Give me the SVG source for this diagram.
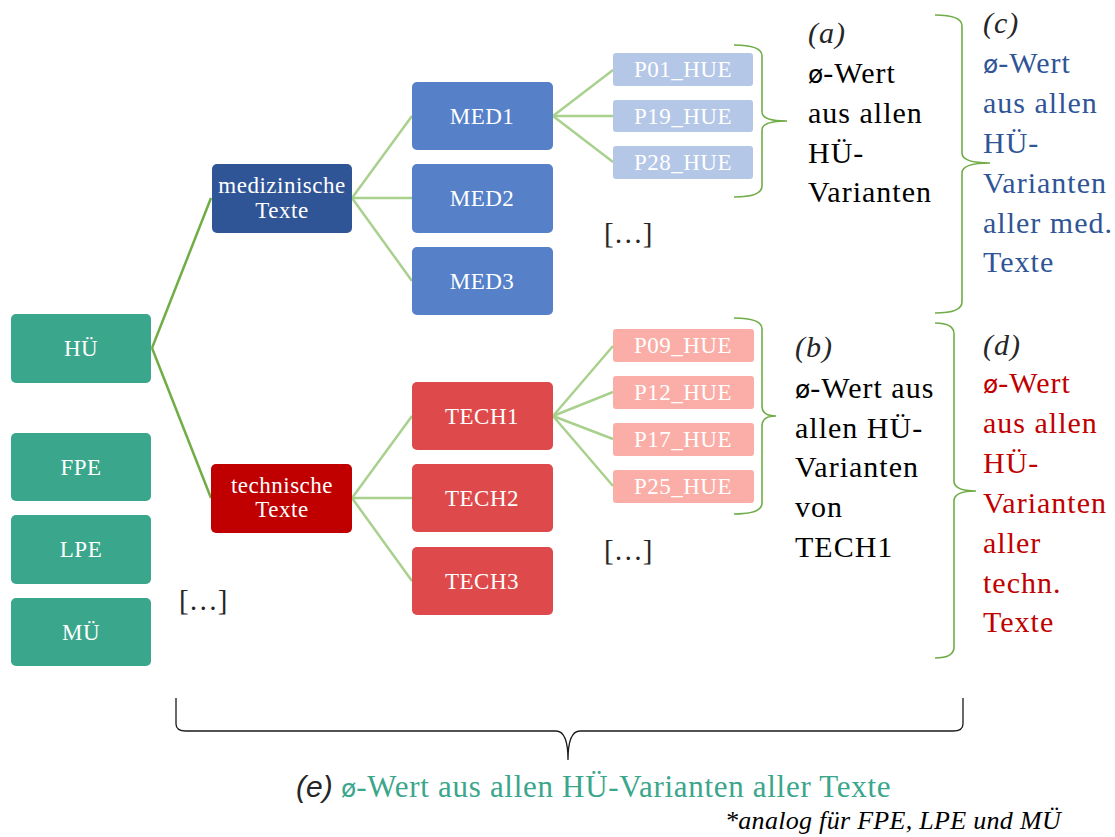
<svg xmlns="http://www.w3.org/2000/svg" width="1115" height="837" viewBox="0 0 1115 837">
  <style>
    .node text { font-family: "Liberation Serif", "Times New Roman", serif; font-size: 23px; fill: #ffffff; text-anchor: middle; letter-spacing: 0.5px; }
    .teal { fill: #3AA68B; }
    .medgrp { fill: #2F5597; }
    .med { fill: #5680C8; }
    .pmed { fill: #B4C7E7; }
    .techgrp { fill: #C00000; }
    .tech { fill: #DE4A4B; }
    .ptech { fill: #FAAEA7; }
    .edge-main { stroke: #70AD47; stroke-width: 2.5; fill: none; }
    .edge { stroke: #A9D18E; stroke-width: 2.5; fill: none; }
    .brace { stroke: #70AD47; stroke-width: 1.6; fill: none; }
    .brace-all { stroke: #1a1a1a; stroke-width: 1.3; fill: none; }
    .note { font-family: "Liberation Serif", "Times New Roman", serif; font-size: 30px; letter-spacing: 1px; }
    .tag { font-style: italic; fill: #262626; }
    .oe { font-family: "DejaVu Sans", sans-serif; font-size: 25px; letter-spacing: 0; }
    .dots { font-family: "Liberation Serif", "Times New Roman", serif; font-size: 29px; fill: #262626; }
  </style>

  <!-- connectors -->
  <g id="connectors">
    <line class="edge-main" x1="152" y1="348" x2="211" y2="198"/>
    <line class="edge-main" x1="152" y1="348" x2="211" y2="498"/>

    <line class="edge" x1="352" y1="198" x2="412" y2="116"/>
    <line class="edge" x1="352" y1="198" x2="412" y2="198"/>
    <line class="edge" x1="352" y1="198" x2="412" y2="281"/>

    <line class="edge" x1="352" y1="498" x2="412" y2="416"/>
    <line class="edge" x1="352" y1="498" x2="412" y2="498"/>
    <line class="edge" x1="352" y1="498" x2="412" y2="581"/>

    <line class="edge" x1="553" y1="116" x2="613" y2="70"/>
    <line class="edge" x1="553" y1="116" x2="613" y2="116"/>
    <line class="edge" x1="553" y1="116" x2="613" y2="162"/>

    <line class="edge" x1="553" y1="416" x2="613" y2="346"/>
    <line class="edge" x1="553" y1="416" x2="613" y2="392"/>
    <line class="edge" x1="553" y1="416" x2="613" y2="439"/>
    <line class="edge" x1="553" y1="416" x2="613" y2="486"/>
  </g>

  <!-- root categories -->
  <g id="hue" class="node"><rect class="teal" x="11" y="314" width="140" height="69" rx="5"/><text x="81" y="356">HÜ</text></g>
  <g id="fpe" class="node"><rect class="teal" x="11" y="433" width="140" height="68" rx="5"/><text x="81" y="475">FPE</text></g>
  <g id="lpe" class="node"><rect class="teal" x="11" y="515" width="140" height="69" rx="5"/><text x="81" y="557">LPE</text></g>
  <g id="mue" class="node"><rect class="teal" x="11" y="598" width="140" height="68" rx="5"/><text x="81" y="640">MÜ</text></g>

  <!-- text groups -->
  <g id="med-texte" class="node"><rect class="medgrp" x="212" y="164" width="140" height="69" rx="5"/><text x="282" y="193">medizinische</text><text x="282" y="218">Texte</text></g>
  <g id="tech-texte" class="node"><rect class="techgrp" x="211" y="464" width="141" height="69" rx="5"/><text x="282" y="493">technische</text><text x="282" y="517">Texte</text></g>

  <!-- single texts -->
  <g id="med1" class="node"><rect class="med" x="412" y="82" width="141" height="68" rx="5"/><text x="482" y="124">MED1</text></g>
  <g id="med2" class="node"><rect class="med" x="412" y="164" width="141" height="69" rx="5"/><text x="482" y="206">MED2</text></g>
  <g id="med3" class="node"><rect class="med" x="412" y="247" width="141" height="68" rx="5"/><text x="482" y="289">MED3</text></g>
  <g id="tech1" class="node"><rect class="tech" x="412" y="382" width="141" height="68" rx="5"/><text x="482" y="424">TECH1</text></g>
  <g id="tech2" class="node"><rect class="tech" x="412" y="464" width="141" height="68" rx="5"/><text x="482" y="506">TECH2</text></g>
  <g id="tech3" class="node"><rect class="tech" x="412" y="547" width="141" height="68" rx="5"/><text x="482" y="589">TECH3</text></g>

  <!-- translation variants -->
  <g id="p01" class="node"><rect class="pmed" x="613" y="53" width="140" height="33" rx="3"/><text x="683" y="77">P01_HUE</text></g>
  <g id="p19" class="node"><rect class="pmed" x="613" y="100" width="140" height="32" rx="3"/><text x="683" y="124">P19_HUE</text></g>
  <g id="p28" class="node"><rect class="pmed" x="613" y="146" width="140" height="33" rx="3"/><text x="683" y="170">P28_HUE</text></g>
  <g id="p09" class="node"><rect class="ptech" x="613" y="329" width="141" height="33" rx="3"/><text x="683" y="353">P09_HUE</text></g>
  <g id="p12" class="node"><rect class="ptech" x="613" y="376" width="141" height="33" rx="3"/><text x="683" y="400">P12_HUE</text></g>
  <g id="p17" class="node"><rect class="ptech" x="613" y="423" width="141" height="33" rx="3"/><text x="683" y="447">P17_HUE</text></g>
  <g id="p25" class="node"><rect class="ptech" x="613" y="470" width="141" height="33" rx="3"/><text x="683" y="494">P25_HUE</text></g>

  <!-- ellipses -->
  <text class="dots" x="179" y="610">[…]</text>
  <text class="dots" x="604" y="243">[…]</text>
  <text class="dots" x="604" y="560">[…]</text>

  <!-- grouping braces -->
  <g id="braces">
    <path class="brace" d="M734,45 Q762,45 762,56 L762,112 Q762,121 787,121 Q762,121 762,130 L762,186 Q762,197 734,197"/>
    <path class="brace" d="M734,318 Q762,318 762,329 L762,406 Q762,416 776,416 Q762,416 762,426 L762,503 Q762,514 734,514"/>
    <path class="brace" d="M935,15 Q962,15 962,26 L962,153 Q962,163 990,163 Q962,163 962,173 L962,302 Q962,313 935,313"/>
    <path class="brace" d="M935,323 Q954,323 954,334 L954,481 Q954,491 976,491 Q954,491 954,501 L954,647 Q954,658 935,658"/>
    <path class="brace-all" d="M176,698 L176,724 Q176,731 186,731 L556,731 Q568,731 568,760 Q568,731 580,731 L953,731 Q963,731 963,724 L963,698"/>
  </g>

  <!-- (a) -->
  <g id="note-a" class="note" fill="#000000">
    <text class="tag" x="808" y="43">(a)</text>
    <text x="808" y="83"><tspan class="oe">ø</tspan>-Wert</text>
    <text x="808" y="123">aus allen</text>
    <text x="808" y="163">HÜ-</text>
    <text x="808" y="202">Varianten</text>
  </g>

  <!-- (b) -->
  <g id="note-b" class="note" fill="#000000">
    <text class="tag" x="795" y="357">(b)</text>
    <text x="795" y="398"><tspan class="oe">ø</tspan>-Wert aus</text>
    <text x="795" y="438">allen HÜ-</text>
    <text x="795" y="477">Varianten</text>
    <text x="795" y="517">von</text>
    <text x="795" y="557">TECH1</text>
  </g>

  <!-- (c) -->
  <g id="note-c" class="note" fill="#2F5597">
    <text class="tag" x="983" y="33">(c)</text>
    <text x="983" y="73"><tspan class="oe">ø</tspan>-Wert</text>
    <text x="983" y="113">aus allen</text>
    <text x="983" y="153">HÜ-</text>
    <text x="983" y="193">Varianten</text>
    <text x="983" y="233">aller med.</text>
    <text x="983" y="272">Texte</text>
  </g>

  <!-- (d) -->
  <g id="note-d" class="note" fill="#C00000">
    <text class="tag" x="983" y="355">(d)</text>
    <text x="983" y="393"><tspan class="oe">ø</tspan>-Wert</text>
    <text x="983" y="433">aus allen</text>
    <text x="983" y="473">HÜ-</text>
    <text x="983" y="513">Varianten</text>
    <text x="983" y="553">aller</text>
    <text x="983" y="593">techn.</text>
    <text x="983" y="632">Texte</text>
  </g>

  <!-- (e) -->
  <g id="note-e">
    <text x="296" y="797" font-family="'Liberation Sans', Arial, sans-serif" font-style="italic" font-size="30" fill="#262626">(e)</text>
    <text x="341" y="797" font-family="'Liberation Serif', 'Times New Roman', serif" font-size="31" fill="#3AA68B" letter-spacing="0.7"><tspan font-family="'DejaVu Sans', sans-serif" font-size="25" letter-spacing="0">ø</tspan>-Wert aus allen HÜ-Varianten aller Texte</text>
  </g>

  <text id="footnote" x="725" y="829" font-family="'Liberation Serif', 'Times New Roman', serif" font-style="italic" font-size="26" fill="#000000" letter-spacing="0.3">*analog für FPE, LPE und MÜ</text>
</svg>
